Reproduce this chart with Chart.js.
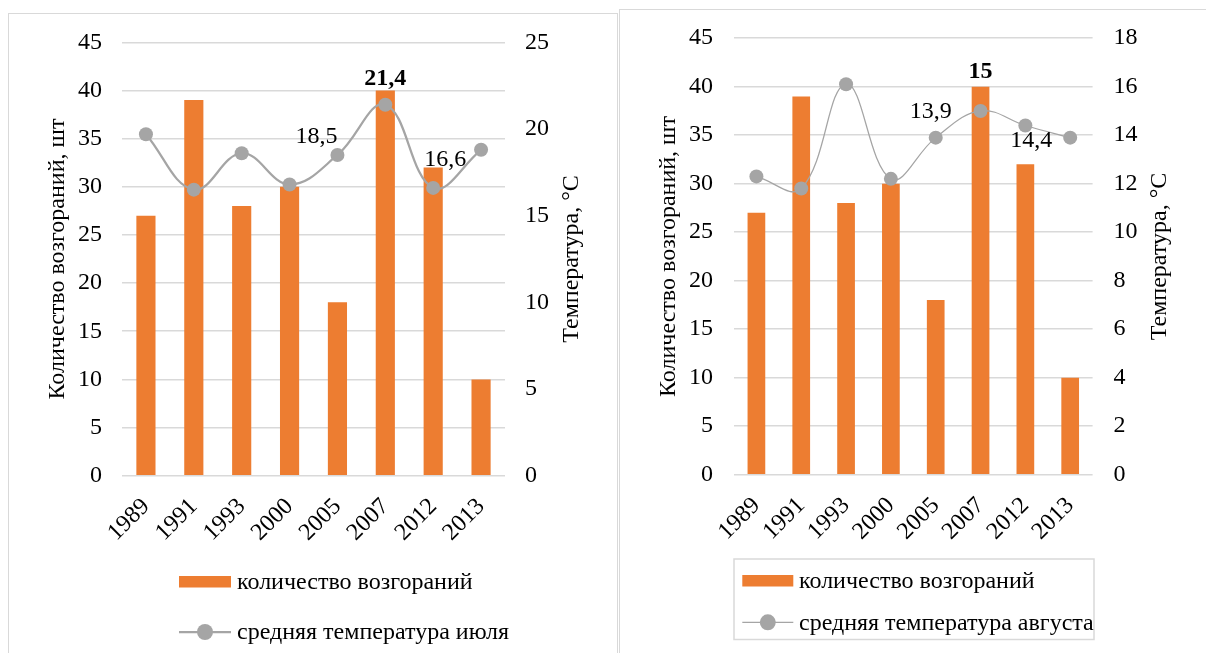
<!DOCTYPE html>
<html><head><meta charset="utf-8">
<script src="https://cdn.jsdelivr.net/npm/chart.js@4.4.1/dist/chart.umd.min.js"></script>
<style>
html,body{margin:0;padding:0;background:#fff;}
body{width:1206px;height:653px;overflow:hidden;position:relative;}
.frame{position:absolute;border:1.5px solid #d9d9d9;box-sizing:border-box;}
#f1{left:8px;top:13px;width:610px;height:700px;}
#f2{left:619px;top:9px;width:700px;height:700px;}
.cw{position:absolute;top:0;}
#c1w{left:0;width:612px;height:653px;}
#c2w{left:615px;width:591px;height:653px;}
</style>
</head><body>
<div class="frame" id="f1"></div>
<div class="frame" id="f2"></div>
<div class="cw" id="c1w"><canvas id="c1"></canvas></div>
<div class="cw" id="c2w"><canvas id="c2"></canvas></div>
<script>
// ---------- data ----------
const years = ['1989', '1991', '1993', '2000', '2005', '2007', '2012', '2013'];
const firesJuly = [27, 39, 28, 30, 18, 40, 32, 10];
const tempJuly = [19.7, 16.5, 18.6, 16.8, 18.5, 21.4, 16.6, 18.8];
const firesAug = [27, 39, 28, 30, 18, 40, 32, 10];
const tempAug = [12.3, 11.8, 16.1, 12.2, 13.9, 15.0, 14.4, 13.9];
const countTicks = [0, 5, 10, 15, 20, 25, 30, 35, 40, 45];
const tempTicksJuly = [0, 5, 10, 15, 20, 25];
const tempTicksAug = [0, 2, 4, 6, 8, 10, 12, 14, 16, 18];
const labeledJuly = [4, 5, 6];
const labeledAug = [4, 5, 6];
const boldIndex = 5;
const barName = 'количество возгораний';
const lineNameJuly = 'средняя температура июля';
const lineNameAug = 'средняя температура августа';
const leftTitle = 'Количество возгораний, шт';
const rightTitle = 'Температура, °С';

// ---------- style ----------
const FONT = '"Liberation Serif", "Times New Roman", serif';
const FS = 24;
const ORANGE = '#ED7D31';
const GRAY = '#A5A5A5';
const GRID = '#D9D9D9';
const TXT = '#000000';

const fmt = v => String(v).replace('.', ',');

const extras = {
  id: 'extras',
  afterDatasetsDraw(chart, args, o) {
    const ctx = chart.ctx;
    const meta = chart.getDatasetMeta(1);
    const ds = chart.data.datasets[1];
    ctx.save();
    ctx.fillStyle = TXT;
    ctx.textAlign = 'center';
    ctx.textBaseline = 'middle';
    o.labels.forEach((l, k) => {
      const i = o.labeled[k];
      const pt = meta.data[i];
      ctx.font = (i === o.bold ? 'bold ' : '') + FS + 'px ' + FONT;
      ctx.fillText(fmt(ds.data[i]), pt.x + l.dx, pt.y + l.dy);
    });
    ctx.restore();
  },
  afterDraw(chart, args, o) {
    const ctx = chart.ctx;
    const ca = chart.chartArea;
    ctx.save();
    // right axis title (reads bottom-to-top)
    ctx.fillStyle = TXT;
    ctx.font = FS + 'px ' + FONT;
    ctx.translate(o.rightTitleX, (ca.top + ca.bottom) / 2);
    ctx.rotate(-Math.PI / 2);
    ctx.textAlign = 'center';
    ctx.textBaseline = 'middle';
    ctx.fillText(o.rightTitle, 0, 0);
    ctx.restore();

    // legend
    const L = o.legend;
    ctx.save();
    if (L.box) {
      ctx.strokeStyle = GRID;
      ctx.lineWidth = 1.5;
      ctx.strokeRect(L.box[0], L.box[1], L.box[2], L.box[3]);
    }
    const bar = chart.data.datasets[0];
    const line = chart.data.datasets[1];
    ctx.fillStyle = bar.backgroundColor;
    ctx.fillRect(L.x, L.y1 - 6, L.w, 11.5);
    ctx.strokeStyle = line.borderColor;
    ctx.lineWidth = line.borderWidth;
    ctx.beginPath();
    ctx.moveTo(L.x, L.y2);
    ctx.lineTo(L.x + L.w, L.y2);
    ctx.stroke();
    ctx.fillStyle = line.pointBackgroundColor;
    ctx.beginPath();
    ctx.arc(L.x + L.w / 2, L.y2, 8, 0, Math.PI * 2);
    ctx.fill();
    ctx.fillStyle = TXT;
    ctx.font = FS + 'px ' + FONT;
    ctx.textAlign = 'left';
    ctx.textBaseline = 'middle';
    ctx.fillText(bar.label, L.tx, L.y1 + 1);
    ctx.fillText(line.label, L.tx, L.y2 + 1);
    ctx.restore();
  }
};

function makeChart(id, cfg) {
  return new Chart(document.getElementById(id), {
    data: {
      labels: years,
      datasets: [
        {
          type: 'bar', label: barName, data: cfg.bars, yAxisID: 'y',
          backgroundColor: ORANGE, borderWidth: 0, order: 2,
          barPercentage: 1.0, categoryPercentage: cfg.barFrac
        },
        {
          type: 'line', label: cfg.lineName, data: cfg.temps, yAxisID: 'y1',
          borderColor: GRAY, borderWidth: cfg.lineW, tension: 0.4,
          pointRadius: 7, pointHoverRadius: 7, pointBackgroundColor: GRAY,
          pointBorderWidth: 0, fill: false, order: 1
        }
      ]
    },
    options: {
      responsive: true, maintainAspectRatio: false, animation: false,
      layout: { padding: { top: cfg.top, left: 0, right: 0, bottom: 0 } },
      plugins: {
        legend: { display: false }, tooltip: { enabled: false },
        extras: {
          labels: cfg.labelOffsets, labeled: cfg.labeled, bold: boldIndex,
          rightTitle: rightTitle, rightTitleX: cfg.rightTitleX, legend: cfg.legend
        }
      },
      scales: {
        x: {
          grid: { display: false }, border: { display: false },
          ticks: { color: TXT, font: { family: FONT, size: FS }, minRotation: 45, maxRotation: 45, padding: cfg.xPad, autoSkip: false },
          afterFit: s => { s.height = cfg.xH; }
        },
        y: {
          position: 'left', min: 0, max: cfg.countTicks[cfg.countTicks.length - 1],
          afterBuildTicks: s => { s.ticks = cfg.countTicks.map(v => ({ value: v })); },
          grid: { color: GRID, lineWidth: 1.5, drawTicks: false },
          border: { display: false },
          ticks: { color: TXT, font: { family: FONT, size: FS }, padding: cfg.yPad },
          title: { display: true, text: leftTitle, color: TXT, font: { family: FONT, size: FS }, padding: { top: cfg.leftTitlePad, bottom: 0 } },
          afterFit: s => { s.width = cfg.yW; }
        },
        y1: {
          position: 'right', min: 0, max: cfg.tempTicks[cfg.tempTicks.length - 1],
          afterBuildTicks: s => { s.ticks = cfg.tempTicks.map(v => ({ value: v })); },
          grid: { display: false, drawTicks: false },
          border: { display: false },
          ticks: { color: TXT, font: { family: FONT, size: FS }, padding: cfg.y1Pad },
          afterFit: s => { s.width = cfg.y1W; }
        }
      }
    },
    plugins: [extras]
  });
}

makeChart('c1', {
  bars: firesJuly, temps: tempJuly, lineName: lineNameJuly, lineW: 2.25, barFrac: 0.4,
  countTicks: countTicks, tempTicks: tempTicksJuly, labeled: labeledJuly,
  labelOffsets: [{ dx: -21, dy: -18 }, { dx: 0, dy: -26 }, { dx: 12, dy: -28 }],
  top: 42.3, xH: 653 - 475.7, yW: 122, y1W: 612 - 505, xPad: 9, yPad: 20, y1Pad: 20,
  leftTitlePad: 43, rightTitleX: 572,
  legend: { x: 179, w: 52, y1: 582, y2: 632, tx: 237 }
});

makeChart('c2', {
  bars: firesAug, temps: tempAug, lineName: lineNameAug, lineW: 1.25, barFrac: 0.395,
  countTicks: countTicks, tempTicks: tempTicksAug, labeled: labeledAug,
  labelOffsets: [{ dx: -5, dy: -26 }, { dx: 0, dy: -39 }, { dx: 6, dy: 15 }],
  top: 38.2, xH: 653 - 474.7, yW: 734 - 615, y1W: 591 - 477.6, xPad: 9, yPad: 21, y1Pad: 21,
  leftTitlePad: 39, rightTitleX: 1160 - 615,
  legend: { x: 127.3, w: 51, y1: 581, y2: 622.3, tx: 184, box: [119, 559, 360, 80.5] }
});
</script>
</body></html>
